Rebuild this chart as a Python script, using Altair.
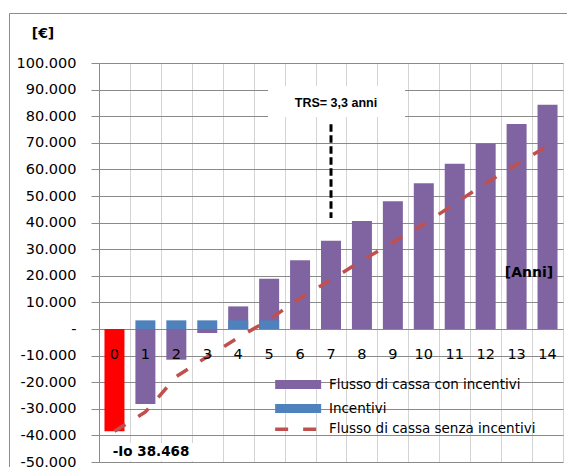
import altair as alt
import pandas as pd

# ---------------- data ----------------
anni = [str(i) for i in range(15)]
flusso_con_incentivi = [None, -28200, -11550, -1500, 8500, 18900, 25800, 33200,
                        40600, 48000, 54800, 62100, 69700, 77100, 84300]
incentivi = [None, 3250, 3250, 3250, 3250, 3250, None, None,
             None, None, None, None, None, None, None]
flusso_senza_incentivi = [-38468, -31200, -17900, -10400, -3300, 3500, 11600, 18500,
                          25700, 32600, 39400, 47100, 54800, 61800, 68900]
investimento_anno = ["0"]
investimento_valore = [-38468]
trs_anno = ["7"]
trs_da = [77000]
trs_a = [41700]
y_ticks = list(range(-50000, 100001, 10000))

S1 = "Flusso di cassa con incentivi"
S2 = "Incentivi"
S3 = "Flusso di cassa senza incentivi"

# ---------------- style ----------------
W, H = 464, 399
FONT = "DejaVu Sans"
PURPLE = "#8064A2"
BLUE = "#4F81BD"
RED_BAR = "#FF0000"
RED_LINE = "#C0504D"
GRID_H = "#8A8A8A"
GRID_V = "#D4D4D4"

rows = []
for a, v in zip(anni, flusso_con_incentivi):
    if v is not None:
        rows.append({"anno": a, "valore": v, "serie": S1})
for a, v in zip(anni, incentivi):
    if v is not None:
        rows.append({"anno": a, "valore": v, "serie": S2})
bars_df = pd.DataFrame(rows)
bars_df["ordine"] = range(len(bars_df))

inv_df = pd.DataFrame({"anno": investimento_anno, "valore": investimento_valore})
line_df = pd.DataFrame({"anno": anni, "valore": flusso_senza_incentivi, "serie_linea": S3})
trs_df = pd.DataFrame({"anno": trs_anno, "valore": trs_da, "valore2": trs_a})
cat_df = pd.DataFrame({"anno": anni})
one = pd.DataFrame({"k": [0]})

x_scale = alt.Scale(domain=anni, paddingInner=0, paddingOuter=0)
y_scale = alt.Scale(domain=[-50000, 100000], nice=False, zero=False)

label_expr = ("datum.value == 0 ? '-\u00a0\u2009' : (datum.value < 0 ? '-' : '') + "
              "replace(format(abs(datum.value), ','), ',', '.')")

x_axis = alt.Axis(
    title=None, labels=False, ticks=False, domain=False, grid=True,
    gridColor=GRID_V, tickBand="extent",
)
y_axis = alt.Axis(
    values=y_ticks, tickCount=40, labelOverlap=False, labelExpr=label_expr,
    labelFont=FONT, labelFontSize=14.5,
    labelColor="black", labelPadding=15, tickSize=8, tickColor=GRID_H,
    domainColor=GRID_H, gridColor=GRID_H, grid=True,
    title="[€]", titleFont=FONT, titleFontSize=14, titleFontWeight="bold",
    titleColor="black", titleAngle=0, titleX=-56.5, titleY=-30,
    titleAlign="center", titleBaseline="middle",
)

X = alt.X("anno:N", scale=x_scale, sort=anni, axis=x_axis)
Y = alt.Y("valore:Q", scale=y_scale, axis=y_axis, stack=None)

# outer chart frame
frame = alt.Chart(one).mark_rect(filled=False, stroke="#8C8C8C", strokeWidth=1).encode(
    x=alt.value(-89.5), x2=alt.value(W + 60), y=alt.value(-49.5), y2=alt.value(H + 60)
)

bars = alt.Chart(bars_df).mark_bar(size=20).encode(
    x=X, y=Y,
    color=alt.Color(
        "serie:N",
        scale=alt.Scale(domain=[S1, S2], range=[PURPLE, BLUE]),
        legend=alt.Legend(
            title=None, orient="none", legendX=192.4, legendY=314.75,
            symbolType="M-5,-1L5,-1L5,1L-5,1Z", symbolSize=84.64,
            symbolStrokeWidth=0, symbolOpacity=1,
            labelFont=FONT, labelFontSize=13.5, labelColor="black",
            labelOffset=24, labelLimit=400, rowPadding=9, padding=0,
        ),
    ),
    order=alt.Order("ordine:Q"),
)

inv = alt.Chart(inv_df).mark_bar(size=20, color=RED_BAR).encode(
    x=alt.X("anno:N", scale=x_scale, sort=anni),
    y=alt.Y("valore:Q", scale=y_scale, stack=None),
)

line = alt.Chart(line_df).mark_line(color=RED_LINE, strokeWidth=3.5, strokeCap="butt").encode(
    x=alt.X("anno:N", scale=x_scale, sort=anni),
    y=alt.Y("valore:Q", scale=y_scale),
    strokeDash=alt.StrokeDash(
        "serie_linea:N",
        scale=alt.Scale(domain=[S3], range=[[13, 15]]),
        legend=alt.Legend(
            title=None, orient="none", legendX=192.4, legendY=359.5,
            symbolType="M-5,0L5,0", symbolSize=84.64,
            symbolStrokeColor=RED_LINE, symbolStrokeWidth=3.5,
            symbolFillColor="transparent",
            labelFont=FONT, labelFontSize=13.5, labelColor="black",
            labelOffset=24, labelLimit=400, padding=0,
        ),
    ),
)

# category labels (Excel places them just below the zero line)
cat_labels = alt.Chart(cat_df).mark_text(
    font=FONT, fontSize=14.5, color="black", align="center", baseline="middle"
).encode(
    x=alt.X("anno:N", scale=x_scale, sort=anni),
    y=alt.value(292),
    text="anno:N",
)
anni_title = alt.Chart(one).mark_text(
    font=FONT, fontSize=14, fontWeight="bold", color="black",
    align="center", baseline="middle",
).encode(x=alt.value(430), y=alt.value(210), text=alt.value("[Anni]"))

# TRS annotation
trs_box = alt.Chart(one).mark_rect(color="white").encode(
    x=alt.value(169), x2=alt.value(306), y=alt.value(23), y2=alt.value(54)
)
trs_text = alt.Chart(one).mark_text(
    font="Liberation Sans", fontSize=12.5, fontWeight="bold", color="black",
    align="center", baseline="middle",
).encode(x=alt.value(237), y=alt.value(40), text=alt.value("TRS= 3,3 anni"))
trs_rule = alt.Chart(trs_df).mark_rule(color="black", strokeWidth=3, strokeDash=[7.5, 3.5]).encode(
    x=alt.X("anno:N", scale=x_scale, sort=anni),
    y=alt.Y("valore:Q", scale=y_scale),
    y2="valore2:Q",
)

# -Io annotation
io_box = alt.Chart(one).mark_rect(color="white").encode(
    x=alt.value(8), x2=alt.value(100), y=alt.value(380), y2=alt.value(398)
)
io_text = alt.Chart(one).mark_text(
    font=FONT, fontSize=13.5, fontWeight="bold", color="black",
    align="center", baseline="middle",
).encode(x=alt.value(52), y=alt.value(389), text=alt.value("-Io 38.468"))

chart = alt.layer(
    frame, bars, inv, line, cat_labels, anni_title,
    trs_box, trs_text, trs_rule, io_box, io_text
).properties(
    width=W, height=H,
    padding={"left": 91, "top": 55, "right": 4, "bottom": 5},
    autosize=alt.AutoSizeParams(type="none"),
).configure_view(strokeWidth=0).configure(background="white")

chart.save("out.html", embed_options={"renderer": "svg", "actions": False})
